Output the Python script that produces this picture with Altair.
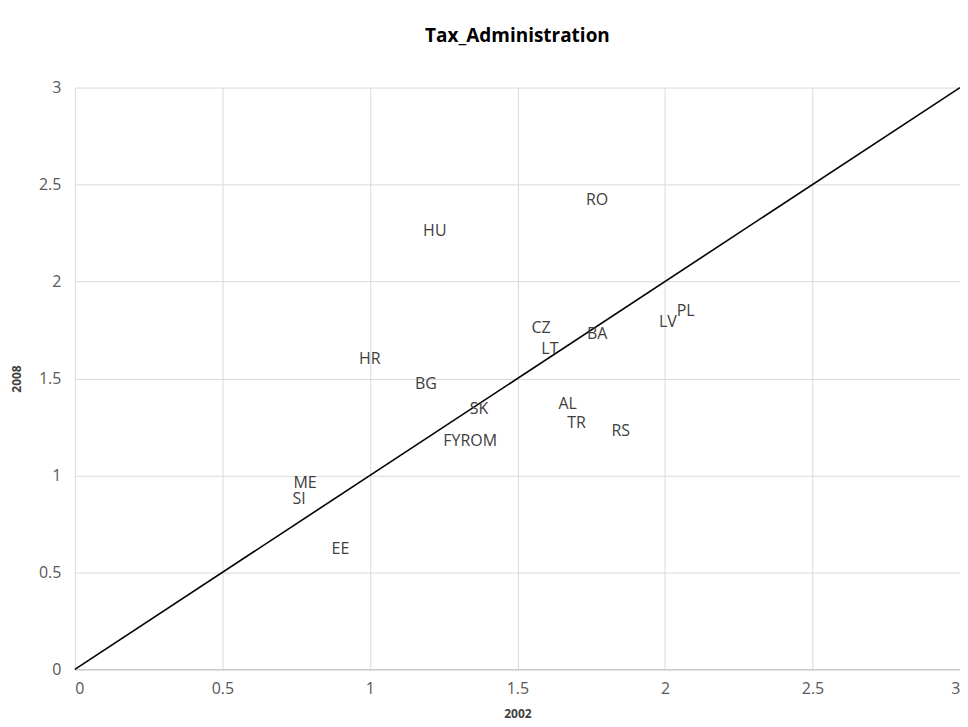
import altair as alt
import pandas as pd

countries = ["RO", "HU", "PL", "LV", "CZ", "BA", "LT", "HR", "BG", "SK", "AL", "TR", "RS", "FYROM", "ME", "SI", "EE"]
x2002 = [1.77, 1.22, 2.07, 2.01, 1.58, 1.77, 1.61, 1.00, 1.19, 1.37, 1.67, 1.70, 1.85, 1.34, 0.78, 0.76, 0.90]
y2008 = [2.42, 2.26, 1.85, 1.79, 1.76, 1.73, 1.65, 1.60, 1.47, 1.34, 1.37, 1.27, 1.23, 1.18, 0.96, 0.88, 0.62]
diag = [0, 3]

df = pd.DataFrame({"country": countries, "x": x2002, "y": y2008})
dline = pd.DataFrame({"x": diag, "y": diag})

FONT = "Open Sans"
xs = alt.Scale(domain=[0, 3], nice=False, zero=True)
ys = alt.Scale(domain=[0, 3], nice=False, zero=True)

xaxis = alt.Axis(title="2002", values=[0, 0.5, 1, 1.5, 2, 2.5, 3], format="~g",
                 grid=True, gridColor="#d9d9d9", ticks=False, domain=True, domainColor="#bfbfbf",
                 labelFont=FONT, labelFontSize=16, labelColor="#595959", labelPadding=11,
                 titleFont=FONT, titleFontSize=12, titleFontWeight="bold", titleColor="#404040",
                 titlePadding=12)
yaxis = alt.Axis(title="2008", values=[0, 0.5, 1, 1.5, 2, 2.5, 3], format="~g",
                 grid=True, gridColor="#d9d9d9", ticks=False, domain=False,
                 labelFont=FONT, labelFontSize=16, labelColor="#595959", labelPadding=14,
                 titleFont=FONT, titleFontSize=12, titleFontWeight="bold", titleColor="#404040",
                 titlePadding=15)

line = alt.Chart(dline).mark_line(color="black", strokeWidth=1.6).encode(
    x=alt.X("x:Q", scale=xs, axis=xaxis),
    y=alt.Y("y:Q", scale=ys, axis=yaxis),
)

labels = alt.Chart(df).mark_text(font=FONT, fontSize=16, color="#404040", align="center", baseline="middle").encode(
    x=alt.X("x:Q", scale=xs),
    y=alt.Y("y:Q", scale=ys),
    text="country:N",
)

chart = alt.layer(line, labels).properties(
    width=887, height=583,
    title=alt.TitleParams("Tax_Administration", font=FONT, fontSize=19, fontWeight="bold",
                          color="#000000", anchor="middle", offset=34),
    autosize=alt.AutoSizeParams(type="none"),
    padding={"left": 67, "top": 79, "right": 0, "bottom": 60},
).configure_view(stroke=None)

chart.save("out.html", embed_options={"renderer": "svg", "actions": False})
